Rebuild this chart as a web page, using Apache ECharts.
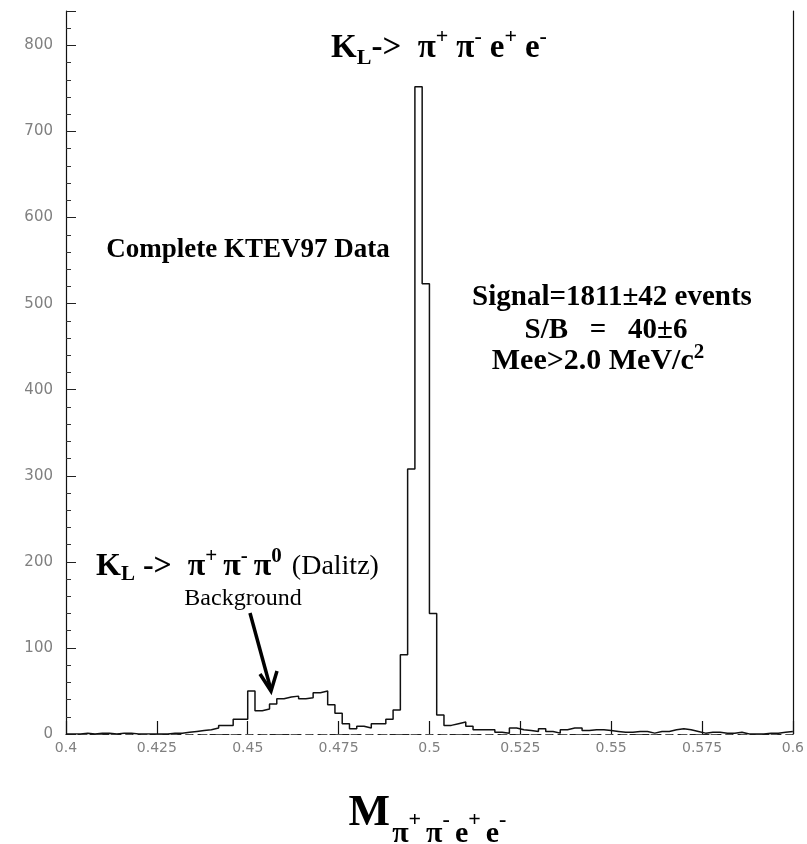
<!DOCTYPE html>
<html>
<head>
<meta charset="utf-8">
<script src="https://cdn.jsdelivr.net/npm/echarts@6/dist/echarts.min.js"></script>
<style>
  html, body { margin: 0; padding: 0; background: #fff; }
  #chart { width: 807px; height: 844px; }
</style>
</head>
<body>
<div id="chart"></div>
<script>
// Invariant mass M(pi+ pi- e+ e-) in GeV/c^2, 2 MeV bins from 0.400 to 0.600
const binStart = 0.4;
const binWidth = 0.002;
const counts = [
  0, 0, 1, 0, 1, 1, 0, 1, 1, 0,
  0, 0, 0, 0, 1, 1, 2, 3, 4, 5,
  7, 10, 10, 17, 17, 50, 27, 29, 35, 41,
  43, 44, 41, 42, 48, 50, 34, 24, 12, 6,
  9, 7, 12, 12, 17, 28, 92, 308, 752, 523,
  140, 22, 10, 12, 14, 9, 5, 5, 5, 2,
  1, 7, 5, 4, 3, 6, 3, 1, 5, 7,
  7, 4, 5, 5, 4, 3, 2, 2, 3, 3,
  1, 3, 3, 5, 6, 5, 3, 1, 2, 2,
  1, 1, 2, 0, 0, 0, 1, 1, 2, 3
];
// Axis ranges and tick spacing
const xRange = [0.4, 0.6];
const xStep = 0.025;
const yRange = [0, 840];
const yStep = 100;

// Step outline: each bin starts at its left edge, closed at the last right edge
const outline = counts.map((c, i) => [+(binStart + i * binWidth).toFixed(3), c]);
outline.push([+(binStart + counts.length * binWidth).toFixed(3), counts[counts.length - 1]]);

const SERIF = '"Liberation Serif", "Times New Roman", serif';
// Rich-text helpers: padding shifts a token up (bottom pad) or down (top pad); side pads add spacing
const base = (size, weight, right, left) => ({ fontFamily: SERIF, fontSize: size, fontWeight: weight, color: '#000', padding: [0, right || 0, 0, left || 0] });
const up = (size, weight, d, right) => Object.assign(base(size, weight), { padding: [0, right || 0, 2 * d, 0] });
const down = (size, weight, d, right) => Object.assign(base(size, weight), { padding: [2 * d, right || 0, 0, 0] });

const chart = echarts.init(document.getElementById('chart'), null, { renderer: 'canvas' });
chart.setOption({
  animation: false,
  backgroundColor: '#fff',
  grid: { left: 66, right: 12, top: 11, bottom: 110 },
  xAxis: [{
    type: 'value', min: xRange[0], max: xRange[1], interval: xStep,
    axisLine: { show: true, lineStyle: { color: '#222', width: 1, type: [7, 5] } },
    axisTick: { show: true, inside: true, length: 13, lineStyle: { color: '#111', width: 1.2 } },
    axisLabel: {
      color: '#808080', fontFamily: 'DejaVu Sans', fontSize: 14, margin: 7,
      formatter: v => String(+v.toFixed(3))
    },
    splitLine: { show: false }
  }, {
    type: 'value', position: 'top', min: xRange[0], max: xRange[1],
    axisLine: { show: true, lineStyle: { color: '#555', width: 1, type: [6, 9] } },
    axisTick: { show: false }, axisLabel: { show: false }, splitLine: { show: false }
  }],
  yAxis: [{
    type: 'value', min: yRange[0], max: yRange[1], interval: yStep,
    axisLine: { show: true, lineStyle: { color: '#111', width: 1.2 } },
    axisTick: { show: true, inside: true, length: 10, lineStyle: { color: '#222' } },
    minorTick: { show: true, splitNumber: 5, length: 5, lineStyle: { color: '#333' } },
    axisLabel: { showMaxLabel: false, color: '#808080', fontFamily: 'DejaVu Sans', fontSize: 15, margin: 13 },
    splitLine: { show: false }
  }, {
    type: 'value', position: 'right', min: yRange[0], max: yRange[1],
    axisLine: { show: true, lineStyle: { color: '#111', width: 1.2 } },
    axisTick: { show: false }, axisLabel: { show: false }, splitLine: { show: false }
  }],
  series: [{
    type: 'line', step: 'end', data: outline, symbol: 'none',
    xAxisIndex: 0, yAxisIndex: 0,
    lineStyle: { color: '#111', width: 1.5 }
  }],
  graphic: [
    {
      type: 'text', x: 443, y: 48,
      style: {
        text: '{b|K}{s|L}{b|->  π}{p|+}{b|π}{p|-}{b|e}{p|+}{b|e}{p|-}',
        align: 'center', verticalAlign: 'middle',
        rich: { b: base(33, 'bold'), s: down(22, 'bold', 10), p: up(22, 'bold', 11, 8) }
      }
    },
    {
      type: 'text', x: 248, y: 250,
      style: { text: 'Complete KTEV97 Data', align: 'center', verticalAlign: 'middle',
        font: 'bold 27px ' + SERIF, fill: '#000' }
    },
    {
      type: 'text', x: 612, y: 298,
      style: { text: 'Signal=1811±42 events', align: 'center', verticalAlign: 'middle',
        font: 'bold 29px ' + SERIF, fill: '#000' }
    },
    {
      type: 'text', x: 606, y: 331,
      style: { text: 'S/B   =   40±6', align: 'center', verticalAlign: 'middle',
        font: 'bold 29px ' + SERIF, fill: '#000' }
    },
    {
      type: 'text', x: 598, y: 361,
      style: {
        text: '{b|Mee>2.0 MeV/c}{p|2}', align: 'center', verticalAlign: 'middle',
        rich: { b: base(30, 'bold'), p: up(21, 'bold', 8) }
      }
    },
    {
      type: 'text', x: 96, y: 567,
      style: {
        text: '{b|K}{s|L}{b| ->  π}{p|+}{b|π}{p|-}{b|π}{p|0}{r|(Dalitz)}',
        align: 'left', verticalAlign: 'middle',
        rich: {
          b: base(32, 'bold'), s: down(21, 'bold', 8),
          p: up(21, 'bold', 10, 6), r: base(28, 'normal', 0, 4)
        }
      }
    },
    {
      type: 'text', x: 243, y: 599,
      style: { text: 'Background', align: 'center', verticalAlign: 'middle',
        font: '24px ' + SERIF, fill: '#000' }
    },
    {
      type: 'polyline',
      shape: { points: [[250, 613], [271, 690]] },
      style: { stroke: '#000', lineWidth: 3.5, fill: null }
    },
    {
      type: 'polyline',
      shape: { points: [[260, 674], [271, 691], [277, 671]] },
      style: { stroke: '#000', lineWidth: 3.5, fill: null, lineJoin: 'miter' }
    },
    {
      type: 'text', x: 430, y: 814,
      style: {
        text: '{m|M}{s|π}{p|+}{s|π}{p|-}{s|e}{p|+}{s|e}{p|-}',
        align: 'center', verticalAlign: 'middle',
        rich: { m: base(44, 'bold', 2), s: down(30, 'bold', 20), p: down(22, 'bold', 6, 5) }
      }
    }
  ]
});
</script>
</body>
</html>
